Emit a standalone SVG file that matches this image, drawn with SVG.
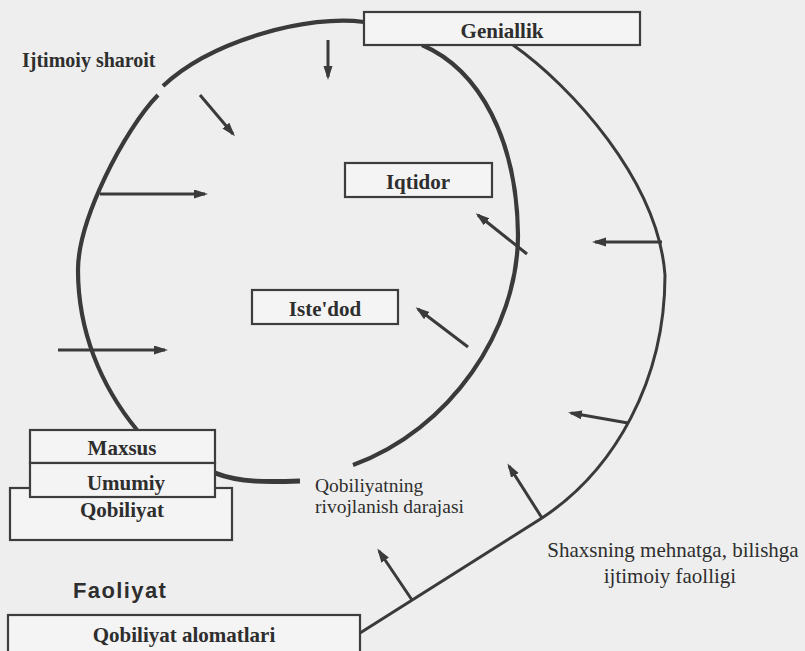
<svg xmlns="http://www.w3.org/2000/svg" width="805" height="651" viewBox="0 0 805 651">
<defs>
<style>
.bg{fill:#eeeeee}
.box{fill:#f4f4f4;stroke:#3d3d3d;stroke-width:2.2}
.bl{font-family:"Liberation Serif","Times New Roman",serif;font-weight:bold;font-size:21px;fill:#2e2e2e;text-anchor:middle}
.rl{font-family:"Liberation Serif","Times New Roman",serif;font-size:19.5px;fill:#2e2e2e}
.thick{fill:none;stroke:#3a3a3a;stroke-width:4.2;stroke-linecap:butt}
.med{fill:none;stroke:#3a3a3a;stroke-width:3}
.arr{fill:none;stroke:#3a3a3a;stroke-width:3;marker-end:url(#ah)}
</style>
<marker id="ah" markerUnits="userSpaceOnUse" markerWidth="15" markerHeight="10" refX="11" refY="4.5" orient="auto">
<path d="M0,0 L14,4.5 L0,9 z" fill="#3a3a3a"/>
</marker>
</defs>
<rect class="bg" x="0" y="0" width="805" height="651"/>
<g id="connectors">
<path class="thick" d="M364,22 C310,14 212,40 163,86"/>
<path class="thick" d="M158,95 C124,130 78,220 78,270 C78,330 100,385 137,430"/>
<path class="thick" d="M422,45 C480,70 517,140 518,235 C518,330 450,430 353,465"/>
<path class="med" d="M513,45 C570,85 658,180 665,275 C665,380 615,470 542,518 L360,633"/>
<path class="thick" style="stroke-width:5" d="M215,473 C240,483 270,482 300,481"/>
<line class="arr" x1="328" y1="40" x2="328" y2="77"/>
<line class="arr" x1="200" y1="95" x2="233" y2="134"/>
<line class="arr" x1="100" y1="194" x2="205" y2="194"/>
<line class="arr" x1="58" y1="350" x2="165" y2="350"/>
<line class="arr" x1="527" y1="254" x2="478" y2="215"/>
<line class="arr" x1="468" y1="347" x2="418" y2="309"/>
<line class="arr" x1="662" y1="242" x2="595" y2="242"/>
<line class="arr" x1="628" y1="423" x2="571" y2="413"/>
<line class="arr" x1="542" y1="518" x2="509" y2="466"/>
<line class="arr" x1="412" y1="600" x2="379" y2="551"/>
</g>
<g id="geniallik">
<rect class="box" x="364" y="12" width="276" height="33"/>
<text class="bl" x="502" y="38">Geniallik</text>
</g>
<g id="iqtidor">
<rect class="box" x="345" y="163" width="147" height="34"/>
<text class="bl" x="418" y="189">Iqtidor</text>
</g>
<g id="istedod">
<rect class="box" x="252" y="290" width="146" height="34"/>
<text class="bl" x="325" y="316">Iste'dod</text>
</g>
<g id="qobiliyat">
<rect class="box" x="10" y="488" width="222" height="52"/>
<text class="bl" x="122" y="517">Qobiliyat</text>
</g>
<g id="maxsus">
<rect class="box" x="30" y="430" width="185" height="33"/>
<text class="bl" x="122" y="455">Maxsus</text>
</g>
<g id="umumiy">
<rect class="box" x="30" y="463" width="185" height="34"/>
<text class="bl" x="126" y="490">Umumiy</text>
</g>
<g id="alomatlari">
<rect class="box" x="8" y="615" width="352" height="45"/>
<text class="bl" x="184" y="642">Qobiliyat alomatlari</text>
</g>
<g id="ijtimoiy-sharoit">
<text class="bl" style="font-size:20px;text-anchor:start" x="22" y="67">Ijtimoiy sharoit</text>
</g>
<g id="faoliyat">
<text x="73" y="598" style="font-family:'Liberation Sans',Arial,sans-serif;font-weight:bold;font-size:22px;letter-spacing:1.4px;fill:#2e2e2e">Faoliyat</text>
</g>
<g id="rivojlanish">
<text class="rl" x="315" y="492">Qobiliyatning</text>
<text class="rl" x="315" y="513">rivojlanish darajasi</text>
</g>
<g id="shaxsning">
<text class="rl" style="font-size:21px;text-anchor:middle" x="673" y="557">Shaxsning mehnatga, bilishga</text>
<text class="rl" style="font-size:21px;text-anchor:middle" x="670" y="583">ijtimoiy faolligi</text>
</g>
</svg>
